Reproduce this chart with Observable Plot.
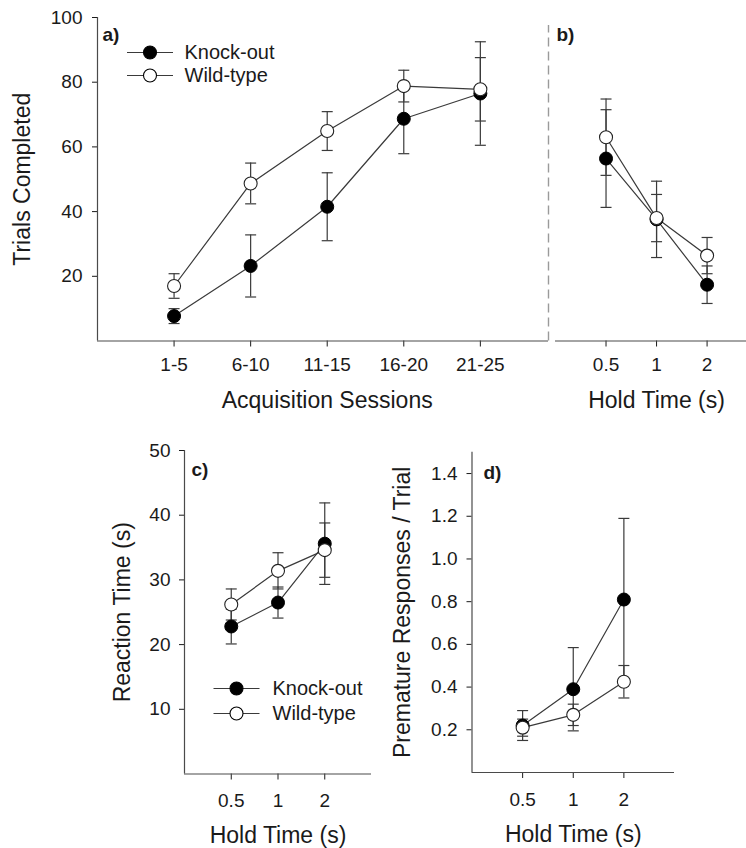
<!DOCTYPE html>
<html><head><meta charset="utf-8">
<script src="https://cdn.jsdelivr.net/npm/d3@7"></script>
<script src="https://cdn.jsdelivr.net/npm/@observablehq/plot@0.6"></script>
<style>
body{margin:0;background:#fff;}
#wrap{position:relative;width:746px;height:848px;overflow:hidden;font-family:"Liberation Sans",Arial,sans-serif;}
#wrap svg{position:absolute;overflow:visible;}
</style></head><body><div id="wrap"></div>
<script>
// ---- data ----
const sessions = ["1-5", "6-10", "11-15", "16-20", "21-25"];
const holdTimes = ["0.5", "1", "2"];
const groups = ["Knock-out", "Wild-type"];

const trialsKO = [7.7, 23.2, 41.5, 68.7, 76.5];
const trialsKOErr = [2.3, 9.6, 10.5, 10.8, 16.0];
const trialsWT = [17.0, 48.7, 64.9, 78.8, 77.8];
const trialsWTErr = [3.8, 6.3, 6.0, 4.9, 9.8];

const holdTrialsKO = [56.4, 37.6, 17.4];
const holdTrialsKOErr = [15.1, 11.8, 5.8];
const holdTrialsWT = [63.0, 38.0, 26.4];
const holdTrialsWTErr = [11.8, 7.3, 5.6];

const rtKO = [22.8, 26.5, 35.6];
const rtKOErr = [2.7, 2.4, 6.3];
const rtWT = [26.2, 31.4, 34.6];
const rtWTErr = [2.4, 2.8, 4.2];

const premKO = [0.22, 0.39, 0.81];
const premKOErr = [0.07, 0.195, 0.38];
const premWT = [0.21, 0.27, 0.425];
const premWTErr = [0.04, 0.05, 0.076];

const trialsTicks = [20, 40, 60, 80, 100];
const rtTicks = [10, 20, 30, 40, 50];
const premTicks = [0.2, 0.4, 0.6, 0.8, 1.0, 1.2, 1.4];

// ---- helpers ----
function buildRows(cats, ko, koErr, wt, wtErr) {
  const rows = [];
  cats.forEach((c, k) => rows.push({i: k + 1, cat: c, group: groups[0], v: ko[k], e: koErr[k]}));
  cats.forEach((c, k) => rows.push({i: k + 1, cat: c, group: groups[1], v: wt[k], e: wtErr[k]}));
  return rows;
}
const cap = {draw(ctx, size) { const w = Math.sqrt(size / Math.PI); ctx.moveTo(-w, 0); ctx.lineTo(w, 0); }};
const INK = "#3a3a3a";
const AX = "#4a4a4a";
const FONT = "'Liberation Sans', Arial, sans-serif";

function dataMarks(rows) {
  return [
    Plot.line(rows, {x: "i", y: "v", z: "group", stroke: INK, strokeWidth: 1.2}),
    Plot.ruleX(rows, {x: "i", y1: d => d.v - d.e, y2: d => d.v + d.e, stroke: INK, strokeWidth: 1.2}),
    Plot.dot(rows, {x: "i", y: d => d.v + d.e, symbol: cap, r: 5.5, fill: "none", stroke: INK, strokeWidth: 1.2}),
    Plot.dot(rows, {x: "i", y: d => d.v - d.e, symbol: cap, r: 5.5, fill: "none", stroke: INK, strokeWidth: 1.2}),
    Plot.dot(rows.filter(d => d.group === groups[0]), {x: "i", y: "v", r: 6.5, fill: "#000", stroke: "#000", strokeWidth: 1}),
    Plot.dot(rows.filter(d => d.group === groups[1]), {x: "i", y: "v", r: 6.5, fill: "#fff", stroke: "#222", strokeWidth: 1.1})
  ];
}
function legendMarks(dx, dy1, dy2, tdx) {
  const m = [];
  [[groups[0], dy1, "#000"], [groups[1], dy2, "#fff"]].forEach(([name, dy, fill]) => {
    m.push(Plot.dot([name], {frameAnchor: "top-left", dx, dy, symbol: cap, r: 23, fill: "none", stroke: INK, strokeWidth: 1.2}));
    m.push(Plot.dot([name], {frameAnchor: "top-left", dx, dy, r: 6.5, fill, stroke: "#000", strokeWidth: 1.1}));
    m.push(Plot.text([name], {frameAnchor: "top-left", dx: tdx, dy, text: d => d, textAnchor: "start", lineAnchor: "middle", fontSize: 20}));
  });
  return m;
}
function letter(t, dx, dy) {
  return Plot.text([t], {frameAnchor: "top-left", dx, dy, text: d => d, textAnchor: "start", lineAnchor: "top", fontSize: 19, fontWeight: "bold"});
}
function xTitle(t, mid, dy) {
  return Plot.text([t], {x: () => mid, frameAnchor: "bottom", dy, text: d => d, textAnchor: "middle", lineAnchor: "middle", fontSize: 23});
}
function yTitle(t, yv, dx) {
  return Plot.text([t], {y: () => yv, frameAnchor: "left", dx, text: d => d, rotate: -90, textAnchor: "middle", lineAnchor: "middle", fontSize: 23});
}
function place(svg, left, top) {
  svg.style.left = left + "px";
  svg.style.top = top + "px";
  document.getElementById("wrap").appendChild(svg);
}
const baseStyle = {fontFamily: FONT, fontSize: "19px", color: "#1a1a1a", background: "transparent"};

// ---- panel a ----
const rowsA = buildRows(sessions, trialsKO, trialsKOErr, trialsWT, trialsWTErr);
const xMaxA = 5.89;
const pa = Plot.plot({
  width: 550, height: 420, marginLeft: 97, marginRight: 2, marginTop: 17, marginBottom: 79.5,
  style: baseStyle,
  x: {domain: [0, xMaxA], ticks: [1, 2, 3, 4, 5], tickFormat: i => sessions[i - 1], tickSize: 6, tickPadding: 10.5, label: null},
  y: {domain: [0, 100], ticks: trialsTicks, tickSize: 5, tickPadding: 10, label: null},
  marks: [
    Plot.ruleX([0], {stroke: AX, strokeWidth: 1.2}),
    Plot.ruleY([0], {stroke: AX, strokeWidth: 1.2}),
    Plot.ruleX([xMaxA], {y1: 0, y2: 97.5, stroke: "#9a9a9a", strokeWidth: 1.4, strokeDasharray: "9,5"}),
    ...dataMarks(rowsA),
    ...legendMarks(52.5, 35, 58, 87),
    letter("a)", 5, 9.5),
    xTitle("Acquisition Sessions", 3, 60),
    yTitle("Trials Completed", 50, -75)
  ]
});
place(pa, 0, 0);

// ---- panel b ----
const rowsB = buildRows(holdTimes, holdTrialsKO, holdTrialsKOErr, holdTrialsWT, holdTrialsWTErr);
const pb = Plot.plot({
  width: 198, height: 420, marginLeft: 7, marginRight: 0, marginTop: 17, marginBottom: 79.5,
  style: baseStyle,
  x: {domain: [0, 3.78], ticks: [1, 2, 3], tickFormat: i => holdTimes[i - 1], tickSize: 6, tickPadding: 10.5, label: null},
  y: {domain: [0, 100], axis: null},
  marks: [
    Plot.ruleY([0], {stroke: AX, strokeWidth: 1.2}),
    ...dataMarks(rowsB),
    letter("b)", 1, 10),
    xTitle("Hold Time (s)", 2, 60)
  ]
});
place(pb, 548, 0);

// ---- panel c ----
const rowsC = buildRows(holdTimes, rtKO, rtKOErr, rtWT, rtWTErr);
const pc = Plot.plot({
  width: 373, height: 448, marginLeft: 184, marginRight: 2, marginTop: 50, marginBottom: 74.5,
  style: baseStyle,
  x: {domain: [0, 4], ticks: [1, 2, 3], tickFormat: i => holdTimes[i - 1], tickSize: 6, tickPadding: 13, label: null},
  y: {domain: [0, 50], ticks: rtTicks, tickSize: 5, tickPadding: 9, label: null},
  marks: [
    Plot.ruleX([0], {stroke: AX, strokeWidth: 1.2}),
    Plot.ruleY([0], {stroke: AX, strokeWidth: 1.2}),
    ...dataMarks(rowsC),
    ...legendMarks(52, 238, 263, 88),
    letter("c)", 7, 12),
    xTitle("Hold Time (s)", 2, 62),
    yTitle("Reaction Time (s)", 25, -61.5)
  ]
});
place(pc, 0, 400);

// ---- panel d ----
const rowsD = buildRows(holdTimes, premKO, premKOErr, premWT, premWTErr);
const pd = Plot.plot({
  width: 296, height: 448, marginLeft: 91.5, marginRight: 2, marginTop: 51.7, marginBottom: 76,
  style: baseStyle,
  x: {domain: [0, 4], ticks: [1, 2, 3], tickFormat: i => holdTimes[i - 1], tickSize: 6, tickPadding: 14, label: null},
  y: {domain: [0, 1.5], ticks: premTicks, tickFormat: d3.format(".1f"), tickSize: 5, tickPadding: 9.5, label: null},
  marks: [
    Plot.ruleX([0], {stroke: AX, strokeWidth: 1.2}),
    Plot.ruleY([0], {stroke: AX, strokeWidth: 1.2}),
    ...dataMarks(rowsD),
    letter("d)", 11.5, 13),
    xTitle("Hold Time (s)", 2, 62),
    yTitle("Premature Responses / Trial", 0.75, -69)
  ]
});
place(pd, 380, 400);
</script></body></html>
